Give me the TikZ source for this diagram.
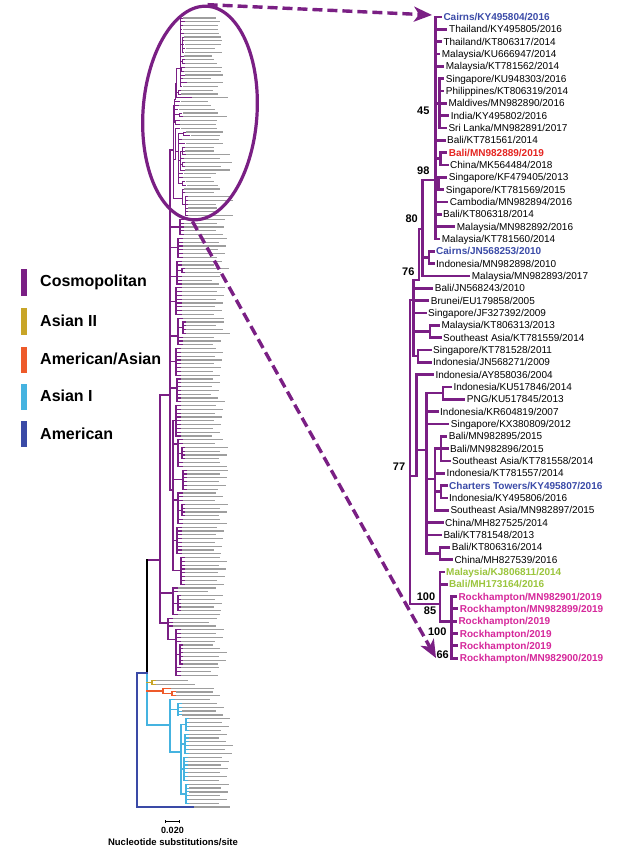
\documentclass[tikz,border=0pt]{standalone}
\usepackage{fontspec}
\setmainfont{Liberation Sans}
\usetikzlibrary{arrows.meta,shapes.geometric}
\definecolor{cos}{RGB}{122,31,132}
\definecolor{asiantwo}{RGB}{200,165,40}
\definecolor{amas}{RGB}{238,90,42}
\definecolor{asianone}{RGB}{69,179,224}
\definecolor{amer}{RGB}{58,74,166}
\definecolor{lblblue}{RGB}{59,75,168}
\definecolor{lblred}{RGB}{229,37,33}
\definecolor{lblgreen}{RGB}{155,197,61}
\definecolor{lblmag}{RGB}{214,40,155}
\newif\ifminimode
\newcommand\rlw{2.7pt}
\tikzset{
  rline/.style={line width=\rlw, draw=cos, line cap=rect},
  lline/.style={line width=1.1pt, line cap=rect},
  lbar/.style={fill=black!38},
  leafbase/.style={anchor=west, inner sep=0pt, text height=7.2pt, text depth=0pt},
  leaflbl/.style={leafbase, font=\fontsize{10}{12}\selectfont, text=black},
  leafblue/.style={leafbase, font=\fontsize{10}{12}\selectfont\bfseries, text=lblblue},
  leafred/.style={leafbase, font=\fontsize{10}{12}\selectfont\bfseries, text=lblred},
  leafgreen/.style={leafbase, font=\fontsize{10}{12}\selectfont\bfseries, text=lblgreen},
  leafmag/.style={leafbase, font=\fontsize{10}{12}\selectfont\bfseries, text=lblmag},
  bs/.style={inner sep=0pt, text height=7.9pt, text depth=0pt, font=\fontsize{11}{13}\selectfont\bfseries},
  legtext/.style={anchor=west, inner sep=0pt, font=\fontsize{16}{19}\selectfont\bfseries},
  darrow/.style={draw=cos, line width=3.4pt, dash pattern=on 10pt off 5pt, -{Stealth[length=18pt,width=15pt,inset=5pt]}},
}
\newcommand\RV[3]{\draw[rline] (#1,#2) -- (#1,#3);}
\newcommand\RH[3]{\draw[rline] (#1,#3) -- (#2,#3);}
\newcommand\RL[6]{%
  \draw[rline] (#2,{17+12.33*#1}) -- (#3,{17+12.33*#1});
  \ifminimode
    \node[#5, fill=black!38, transform shape, text height=4pt] (m#1) at (#4,{17+12.33*#1}) {\phantom{#6}};
  \else
    \node[#5] (r#1) at (#4,{17+12.33*#1}) {#6};
  \fi}
\newcommand\RightTree{%
  \RV{435.5}{17}{238.9}
  \RV{439.5}{78.7}{128}\RH{435.5}{439.5}{103.3}
  \RV{440.5}{152.6}{165}\RH{435.5}{440.5}{158.8}
  \RV{438.5}{177.3}{189.6}\RH{435.5}{438.5}{183.5}
  \RV{422.7}{180}{275.9}\RH{422.7}{435.5}{180}
  \RV{429}{251.3}{263.6}\RH{422.7}{429}{257.5}
  \RV{419}{229}{280}\RH{419}{422.7}{229}
  \RV{413.3}{280}{356}\RH{413.3}{419}{280}
  \RV{430}{325.3}{337.6}\RH{413.3}{430}{331.5}
  \RV{418}{349.9}{362.2}\RH{413.3}{418}{356}
  \RV{410}{300}{604}\RH{410}{413.3}{300}
  \RV{416.7}{374.6}{476}\RH{410}{416.7}{476}
  \RV{426.7}{393}{553.4}\RH{416.7}{426.7}{450}
  \RV{443}{386.9}{399.2}\RH{426.7}{443}{393}
  \RV{435}{448.6}{510.2}\RH{426.7}{435}{479}
  \RV{441}{436.2}{460.9}\RH{435}{441}{448.6}
  \RV{441}{485.5}{497.9}\RH{435}{441}{491.7}
  \RV{440}{547.2}{559.5}\RH{426.7}{440}{553.4}
  \RV{440}{571.9}{621.2}\RH{410}{440}{604}
  \RV{451.7}{596.5}{658.2}\RH{440}{451.7}{621.2}
  \RL{0}{435.5}{440.5}{443.3}{leafblue}{Cairns/KY495804/2016}
  \RL{1}{435.5}{446}{449}{leaflbl}{Thailand/KY495805/2016}
  \RL{2}{435.5}{440.5}{443.3}{leaflbl}{Thailand/KT806317/2014}
  \RL{3}{435.5}{439}{441.7}{leaflbl}{Malaysia/KU666947/2014}
  \RL{4}{435.5}{443}{445.7}{leaflbl}{Malaysia/KT781562/2014}
  \RL{5}{439.5}{443}{445.7}{leaflbl}{Singapore/KU948303/2016}
  \RL{6}{439.5}{443}{445.7}{leaflbl}{Philippines/KT806319/2014}
  \RL{7}{439.5}{445.5}{448.3}{leaflbl}{Maldives/MN982890/2016}
  \RL{8}{439.5}{448}{450.7}{leaflbl}{India/KY495802/2016}
  \RL{9}{439.5}{445.5}{448.3}{leaflbl}{Sri Lanka/MN982891/2017}
  \RL{10}{435.5}{444.3}{447}{leaflbl}{Bali/KT781561/2014}
  \RL{11}{440.5}{446}{448.7}{leafred}{Bali/MN982889/2019}
  \RL{12}{440.5}{447.3}{450}{leaflbl}{China/MK564484/2018}
  \RL{13}{438.5}{446}{448.7}{leaflbl}{Singapore/KF479405/2013}
  \RL{14}{438.5}{443}{445.7}{leaflbl}{Singapore/KT781569/2015}
  \RL{15}{435.5}{447}{449.7}{leaflbl}{Cambodia/MN982894/2016}
  \RL{16}{435.5}{440.3}{443}{leaflbl}{Bali/KT806318/2014}
  \RL{17}{435.5}{454}{456.7}{leaflbl}{Malaysia/MN982892/2016}
  \RL{18}{435.5}{439}{441.7}{leaflbl}{Malaysia/KT781560/2014}
  \RL{19}{429}{433.3}{436}{leafblue}{Cairns/JN568253/2010}
  \RL{20}{429}{433.3}{436}{leaflbl}{Indonesia/MN982898/2010}
  \RL{21}{422.7}{469}{471.7}{leaflbl}{Malaysia/MN982893/2017}
  \RL{22}{413.3}{432}{434.7}{leaflbl}{Bali/JN568243/2010}
  \RL{23}{413.3}{428}{430.7}{leaflbl}{Brunei/EU179858/2005}
  \RL{24}{413.3}{425.3}{428}{leaflbl}{Singapore/JF327392/2009}
  \RL{25}{430}{438.6}{441.3}{leaflbl}{Malaysia/KT806313/2013}
  \RL{26}{430}{440.3}{443}{leaflbl}{Southeast Asia/KT781559/2014}
  \RL{27}{418}{430.3}{433}{leaflbl}{Singapore/KT781528/2011}
  \RL{28}{418}{430.3}{433}{leaflbl}{Indonesia/JN568271/2009}
  \RL{29}{416.7}{432.6}{435.3}{leaflbl}{Indonesia/AY858036/2004}
  \RL{30}{443}{450.6}{453.3}{leaflbl}{Indonesia/KU517846/2014}
  \RL{31}{443}{464}{466.7}{leaflbl}{PNG/KU517845/2013}
  \RL{32}{426.7}{437.3}{440}{leaflbl}{Indonesia/KR604819/2007}
  \RL{33}{426.7}{448}{450.7}{leaflbl}{Singapore/KX380809/2012}
  \RL{34}{441}{446}{448.7}{leaflbl}{Bali/MN982895/2015}
  \RL{35}{441}{447.3}{450}{leaflbl}{Bali/MN982896/2015}
  \RL{36}{441}{449.3}{452}{leaflbl}{Southeast Asia/KT781558/2014}
  \RL{37}{435}{443.6}{446.3}{leaflbl}{Indonesia/KT781557/2014}
  \RL{38}{441}{446.3}{449}{leafblue}{Charters Towers/KY495807/2016}
  \RL{39}{441}{446.3}{449}{leaflbl}{Indonesia/KY495806/2016}
  \RL{40}{435}{447.6}{450.3}{leaflbl}{Southeast Asia/MN982897/2015}
  \RL{41}{426.7}{442.3}{445}{leaflbl}{China/MH827525/2014}
  \RL{42}{426.7}{440.6}{443.3}{leaflbl}{Bali/KT781548/2013}
  \RL{43}{440}{449}{451.7}{leaflbl}{Bali/KT806316/2014}
  \RL{44}{440}{451.6}{454.3}{leaflbl}{China/MH827539/2016}
  \RL{45}{440}{443.3}{446}{leafgreen}{Malaysia/KJ806811/2014}
  \RL{46}{440}{446.3}{449}{leafgreen}{Bali/MH173164/2016}
  \RL{47}{451.7}{455.6}{458.3}{leafmag}{Rockhampton/MN982901/2019}
  \RL{48}{451.7}{457}{459.7}{leafmag}{Rockhampton/MN982899/2019}
  \RL{49}{451.7}{455.6}{458.3}{leafmag}{Rockhampton/2019}
  \RL{50}{451.7}{457}{459.7}{leafmag}{Rockhampton/2019}
  \RL{51}{451.7}{457}{459.7}{leafmag}{Rockhampton/2019}
  \RL{52}{451.7}{457}{459.7}{leafmag}{Rockhampton/MN982900/2019}
}
\newcommand\GV[4]{\draw[lline,draw=#1] (#2,#3) -- (#2,#4);}
\newcommand\GH[4]{\draw[lline,draw=#1] (#2,#4) -- (#3,#4);}
\newcommand\GLeaves[7]{%
  \foreach \k in {#5,...,#6}{%
    \pgfmathsetmacro\yy{#3+#4*\k}%
    \pgfmathsetmacro\ww{30+mod(7*\k+#2,15)}%
    \draw[lline,draw=#1] (#2,\yy) -- ({#2+#7},\yy);
    \fill[lbar] ({#2+#7+1.2},{\yy-0.6}) rectangle ++(\ww,1.2);
  }}
\begin{document}
\begin{tikzpicture}[x=1pt,y=-1pt]
\useasboundingbox (0,0) rectangle (625,850);
\fill[white] (0,0) rectangle (625,850);

% ---------- legend ----------
\fill[cos] (21,269) rectangle (26.5,296);
\fill[asiantwo] (21,308) rectangle (26.5,335);
\fill[amas] (21,347) rectangle (26.5,373);
\fill[asianone] (21,384) rectangle (26.5,410);
\fill[amer] (21,421) rectangle (26.5,447);
\node[legtext] (lcos) at (40,282.7) {Cosmopolitan};
\node[legtext] (laii) at (40,320.7) {Asian II};
\node[legtext] (lamas) at (40,359.3) {American/Asian};
\node[legtext] (lai) at (40,395.7) {Asian I};
\node[legtext] (lam) at (40,433.3) {American};

% ---------- left (full) tree ----------
\begin{scope}[shift={(46.64,12.76)}, scale=0.3082]
  \minimodetrue
  \renewcommand\rlw{0.9pt}
  \RightTree
\end{scope}
\GV{cos}{170}{150}{490}
\GH{cos}{170}{173}{150}
\GV{cos}{180}{219.4}{234.6}\GH{cos}{170}{180}{227}\GLeaves{cos}{180}{18}{3.8}{53}{57}{3}
\GV{cos}{178}{238.4}{257.4}\GH{cos}{170}{178}{247.9}\GLeaves{cos}{178}{18}{3.8}{58}{63}{4}
\GV{cos}{177}{261.2}{284}\GH{cos}{170}{177}{276.4}\GLeaves{cos}{177}{18}{3.8}{64}{65}{4}\GLeaves{cos}{177}{18}{3.8}{68}{70}{4}
\GV{cos}{182}{268.8}{272.6}\GH{cos}{177}{182}{270.7}\GLeaves{cos}{182}{18}{3.8}{66}{67}{2}
\GV{cos}{176}{287.8}{314.4}\GH{cos}{170}{176}{301.1}\GLeaves{cos}{176}{18}{3.8}{71}{78}{5}
\GV{cos}{178}{318.2}{344.8}\GH{cos}{170}{178}{336}\GLeaves{cos}{178}{18}{3.8}{79}{79}{4}\GLeaves{cos}{178}{18}{3.8}{84}{86}{4}
\GV{cos}{183}{322}{333.4}\GH{cos}{178}{183}{327.7}\GLeaves{cos}{183}{18}{3.8}{80}{83}{2}
\GV{cos}{176}{348.6}{375.2}\GH{cos}{170}{176}{361.9}\GLeaves{cos}{176}{18}{3.8}{87}{94}{4}
\GV{cos}{177}{379}{401.8}\GH{cos}{170}{177}{388}\GLeaves{cos}{177}{18}{3.8}{95}{101}{3}
\GH{cos}{160}{170}{395}
\GV{cos}{173}{420.8}{570.9}\GH{cos}{170}{173}{490}
\GV{cos}{176}{405.6}{436}\GH{cos}{173}{176}{420.8}\GLeaves{cos}{176}{18}{3.8}{102}{110}{4}
\GV{cos}{178}{439.8}{466.4}\GH{cos}{173}{178}{444}\GLeaves{cos}{178}{18}{3.8}{111}{112}{4}\GLeaves{cos}{178}{18}{3.8}{117}{118}{4}
\GV{cos}{182}{447.4}{458.8}\GH{cos}{178}{182}{453.1}\GLeaves{cos}{182}{18}{3.8}{113}{116}{2}
\GV{cos}{183}{470.2}{489.2}\GH{cos}{173}{183}{479.7}\GLeaves{cos}{183}{18}{3.8}{119}{124}{3}
\GV{cos}{178}{493}{523.4}\GH{cos}{173}{178}{500}\GLeaves{cos}{178}{18}{3.8}{125}{127}{4}\GLeaves{cos}{178}{18}{3.8}{132}{133}{4}
\GV{cos}{182}{504.4}{515.8}\GH{cos}{178}{182}{510.1}\GLeaves{cos}{182}{18}{3.8}{128}{131}{2}
\GV{cos}{177}{527.2}{553.8}\GH{cos}{173}{177}{540.5}\GLeaves{cos}{177}{18}{3.8}{134}{141}{4}
\GV{cos}{181}{557.6}{584.2}\GH{cos}{173}{181}{570.9}\GLeaves{cos}{181}{18}{3.8}{142}{149}{3}
\GV{cos}{160}{395}{623}\GH{cos}{147}{160}{560}
\GV{cos}{173}{588}{614.6}\GH{cos}{160}{173}{593}\GLeaves{cos}{173}{18}{3.8}{150}{151}{4}\GLeaves{cos}{173}{18}{3.8}{157}{157}{4}
\GV{cos}{178}{595.6}{610.8}\GH{cos}{173}{178}{603.2}\GLeaves{cos}{178}{18}{3.8}{152}{156}{2}
\GV{cos}{168}{618.4}{639.3}\GH{cos}{160}{168}{623}\GLeaves{cos}{168}{18}{3.8}{158}{160}{4}
\GV{cos}{176}{629.8}{675.4}\GH{cos}{168}{176}{639.3}\GLeaves{cos}{176}{18}{3.8}{161}{164}{4}\GLeaves{cos}{176}{18}{3.8}{171}{173}{4}
\GV{cos}{180}{645}{664}\GH{cos}{176}{180}{654.5}\GLeaves{cos}{180}{18}{3.8}{165}{170}{2}
% backbone
\GV{black}{147}{560}{673}
\GV{asianone}{147}{673}{725}
% Asian II
\GH{asiantwo}{147}{152}{682.4}\GV{asiantwo}{152}{680.5}{684.3}\GLeaves{asiantwo}{152}{680.5}{3.8}{0}{1}{3}
% American/Asian
\GH{amas}{147}{163}{691}\GV{amas}{163}{688.1}{693.8}\GLeaves{amas}{163}{688.1}{3.8}{0}{0}{7}
\GV{amas}{172}{691.9}{695.7}\GH{amas}{163}{172}{693.8}\GLeaves{amas}{172}{691.9}{3.8}{0}{1}{3}
% Asian I
\GH{asianone}{147}{170}{725}\GV{asianone}{170}{699.5}{752}
\GLeaves{asianone}{170}{699.5}{3.85}{0}{0}{4}
\GV{asianone}{178}{703.35}{715}\GH{asianone}{170}{178}{709.2}\GLeaves{asianone}{178}{699.5}{3.85}{1}{4}{3}
\GV{asianone}{181}{724.5}{794}\GH{asianone}{170}{181}{752}
\GV{asianone}{186}{718.75}{730.3}\GH{asianone}{181}{186}{724.5}\GLeaves{asianone}{186}{699.5}{3.85}{5}{8}{2}
\GV{asianone}{185}{734.15}{753.4}\GH{asianone}{181}{185}{744}\GLeaves{asianone}{185}{699.5}{3.85}{9}{14}{3}
\GV{asianone}{184}{757.25}{780.35}\GH{asianone}{181}{184}{769}\GLeaves{asianone}{184}{699.5}{3.85}{15}{21}{3}
\GV{asianone}{186}{784.2}{803.45}\GH{asianone}{181}{186}{794}\GLeaves{asianone}{186}{699.5}{3.85}{22}{27}{2}
% American (root)
\GV{amer}{137}{673}{807}\GH{amer}{137}{147}{673}\GH{amer}{137}{193}{807}
\fill[lbar] (194.2,806.4) rectangle ++(36,1.2);

% scale bar
\draw[line width=1.2pt] (165.7,821.7) -- (179.3,821.7);
\draw[line width=0.8pt] (165.7,820.2) -- (165.7,823.2) (179.3,820.2) -- (179.3,823.2);
\node[inner sep=0pt, font=\fontsize{9}{11}\selectfont\bfseries] (sbv) at (172.5,830) {0.020};
\node[inner sep=0pt, font=\fontsize{9.5}{11}\selectfont\bfseries] (sbl) at (173,842.5) {Nucleotide substitutions/site};

% ---------- right (zoomed) tree ----------
\RightTree
\node[bs] (b45) at (423.3,110.5) {45};
\node[bs] (b98) at (423.3,171) {98};
\node[bs] (b80) at (411.7,219) {80};
\node[bs] (b76) at (408.3,272) {76};
\node[bs] (b77) at (399,467) {77};
\node[bs] (b100a) at (426,596.5) {100};
\node[bs] (b85) at (430,611) {85};
\node[bs] (b100b) at (437.3,632) {100};
\node[bs] (b66) at (442.7,654.3) {66};

% ---------- ellipse and arrows ----------
\node[ellipse, draw=cos, line width=3.2pt, minimum width=114pt, minimum height=214pt, inner sep=0pt, rotate=-4] (ell) at (200,113) {};
\coordinate (a1e) at (432,15);
\coordinate (a2e) at (436,658);
\draw[darrow] (ell.north) -- (a1e);
\draw[darrow] (ell.south) -- (a2e);
\end{tikzpicture}
\end{document}
